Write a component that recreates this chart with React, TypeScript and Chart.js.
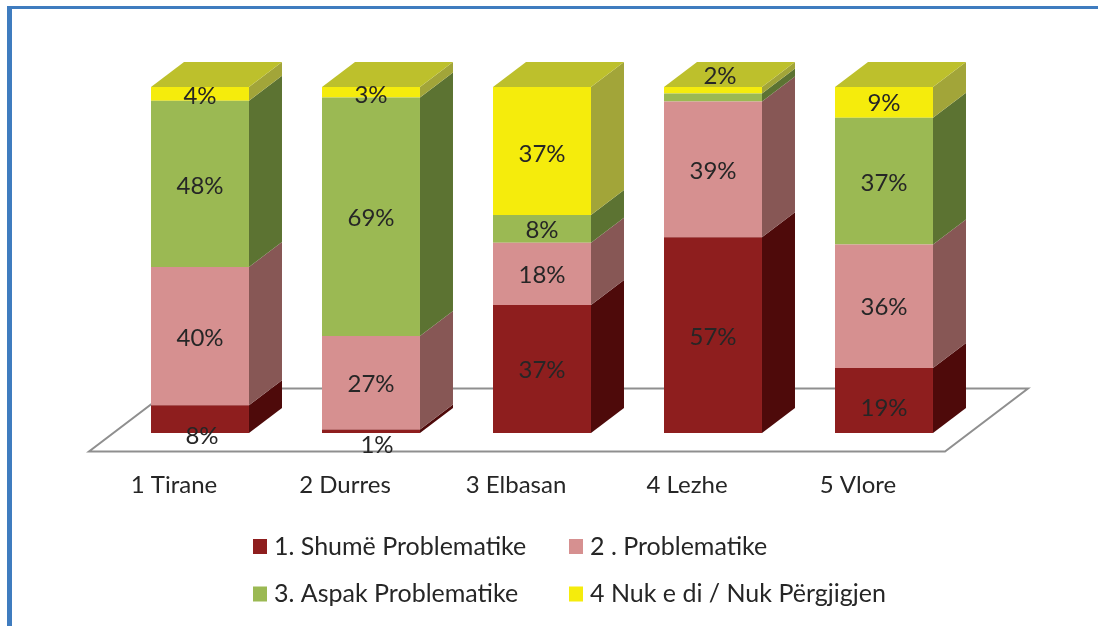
import { useEffect, useRef } from "react";
import { Chart, registerables } from "chart.js";

Chart.register(...registerables);

const categories = ["1 Tirane", "2 Durres", "3 Elbasan", "4 Lezhe", "5 Vlore"];
const seriesNames = [
  "1. Shumë Problematike",
  "2 . Problematike",
  "3. Aspak Problematike",
  "4 Nuk e di / Nuk Përgjigjen",
];
const shume = [8, 1, 37, 56.6, 19];
const problematike = [40, 27, 18, 39.2, 36];
const aspak = [48, 69, 8, 2.3, 37];
const nukDi = [4, 3, 37, 1.9, 9];
const allSeries = [shume, problematike, aspak, nukDi];

const frontColors = ["#8e1e1e", "#d69090", "#9bb953", "#f5ec0c"];
const sideColors = ["#4e0a0a", "#875755", "#5c7332", "#a2a539"];
const topColor = "#bdc02c";
const textColor = "#262626";
const FONT = "Lato, Carlito, 'Open Sans', sans-serif";
const labelPx = 24;
const legendPx = 25;

const depthX = 33;
const depthY = 25;

// label nudges "series-category": [dx, dy]; null hides the label
const nudges: Record<string, [number, number] | null> = {
  "0-0": [2, 17],
  "0-1": [6, 14],
  "0-2": [0, 1],
  "0-3": [0, 2],
  "0-4": [0, 8],
  "2-3": null,
  "3-3": [7, -14],
  "3-1": [0, 3],
  "3-0": [0, 2],
  "3-2": [0, 3],
  "1-0": [0, 2],
  "2-0": [0, 2],
  "1-1": [0, 1],
  "2-1": [0, 2],
  "1-2": [0, 1],
  "2-2": [0, 1],
  "3-4": [0, 1],
  "1-3": [0, 2],
  "1-4": [0, 1],
  "2-4": [0, 2],
};

const percentOf = (s: number, c: number) => {
  const total = allSeries.reduce((sum, arr) => sum + arr[c], 0);
  return (allSeries[s][c] / total) * 100;
};

const plugin3d = {
  id: "bars3d",
  beforeDatasetsDraw(chart: any) {
    const { ctx, scales } = chart;
    const x = scales.x;
    const y = scales.y;
    // floor
    const fl = x.left - 25.5;
    const fr = x.right - 24.5;
    const fy = y.bottom + 18.5;
    ctx.save();
    ctx.beginPath();
    ctx.moveTo(fl, fy);
    ctx.lineTo(fr, fy);
    ctx.lineTo(fr + 83, fy - 63);
    ctx.lineTo(fl + 83, fy - 63);
    ctx.closePath();
    ctx.strokeStyle = "#8f8f8f";
    ctx.lineWidth = 2;
    ctx.stroke();

    chart.data.datasets.forEach((_: any, s: number) => {
      chart.getDatasetMeta(s).data.forEach((bar: any) => {
        const r = bar.x + bar.width / 2;
        ctx.beginPath();
        ctx.moveTo(r, bar.y);
        ctx.lineTo(r + depthX, bar.y - depthY);
        ctx.lineTo(r + depthX, bar.base - depthY);
        ctx.lineTo(r, bar.base);
        ctx.closePath();
        ctx.fillStyle = sideColors[s];
        ctx.fill();
      });
    });
    const last = chart.data.datasets.length - 1;
    chart.getDatasetMeta(last).data.forEach((bar: any) => {
      const l = bar.x - bar.width / 2;
      const r = bar.x + bar.width / 2;
      ctx.beginPath();
      ctx.moveTo(l, bar.y);
      ctx.lineTo(l + depthX, bar.y - depthY);
      ctx.lineTo(r + depthX, bar.y - depthY);
      ctx.lineTo(r, bar.y);
      ctx.closePath();
      ctx.fillStyle = topColor;
      ctx.fill();
    });
    ctx.restore();
  },
  afterDatasetsDraw(chart: any) {
    const { ctx } = chart;
    ctx.save();
    ctx.font = `${labelPx}px ${FONT}`;
    ctx.fillStyle = textColor;
    ctx.textAlign = "center";
    ctx.textBaseline = "middle";
    chart.data.datasets.forEach((_: any, s: number) => {
      chart.getDatasetMeta(s).data.forEach((bar: any, c: number) => {
        const key = `${s}-${c}`;
        const nudge = key in nudges ? nudges[key] : [0, 0];
        if (!nudge) return;
        ctx.fillText(
          `${Math.round(allSeries[s][c])}%`,
          bar.x + nudge[0],
          (bar.y + bar.base) / 2 + nudge[1]
        );
      });
    });

    // legend, two columns by two rows, taken from the datasets
    const colX = [253, 569];
    const rowY = [546.5, 594];
    ctx.font = `${legendPx}px ${FONT}`;
    ctx.textAlign = "left";
    chart.data.datasets.forEach((ds: any, s: number) => {
      const mx = colX[s % 2];
      const my = rowY[Math.floor(s / 2)];
      ctx.fillStyle = frontColors[s];
      ctx.fillRect(mx, my - 7.5, 14, 15);
      ctx.fillStyle = textColor;
      ctx.fillText(ds.label, mx + 21, my);
    });
    ctx.restore();
  },
};

export default function App() {
  const ref = useRef<HTMLCanvasElement>(null);
  useEffect(() => {
    const chart = new Chart(ref.current as HTMLCanvasElement, {
      type: "bar",
      data: {
        labels: categories,
        datasets: allSeries.map((vals, s) => ({
          label: seriesNames[s],
          data: vals.map((_, c) => percentOf(s, c)),
          backgroundColor: frontColors[s],
          borderWidth: 0,
          barPercentage: 0.573,
          categoryPercentage: 1,
        })),
      },
      options: {
        responsive: false,
        animation: false,
        layout: { padding: { left: 114.5, right: 128.5, top: 87, bottom: 133 } },
        plugins: { legend: { display: false }, tooltip: { enabled: false } },
        scales: {
          x: {
            stacked: true,
            grid: { display: false, drawTicks: false },
            border: { display: false },
            ticks: {
              color: textColor,
              font: { family: FONT, size: labelPx },
              padding: 38,
              labelOffset: -26,
              maxRotation: 0,
            },
            afterFit: (scale: any) => {
              scale.height = 60;
            },
          },
          y: { stacked: true, display: false, min: 0, max: 100 },
        },
      },
      plugins: [plugin3d],
    } as any);
    return () => chart.destroy();
  }, []);
  return (
    <div style={{ position: "fixed", inset: 0, background: "#fff" }}>
      <canvas ref={ref} width={1098} height={626} style={{ position: "absolute", left: 0, top: 0 }} />
      <div
        style={{
          position: "absolute",
          left: 7,
          top: 6,
          right: 0,
          bottom: 0,
          borderLeft: "5px solid #3f7cbf",
          borderTop: "3px solid #3f7cbf",
          pointerEvents: "none",
        }}
      />
    </div>
  );
}
